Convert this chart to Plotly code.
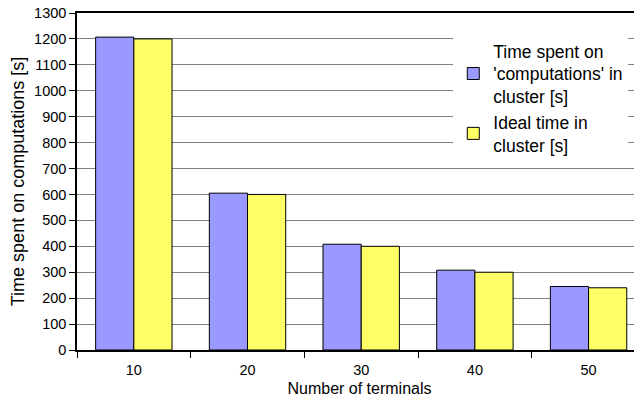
import plotly.graph_objects as go

categories = ["10", "20", "30", "40", "50"]
time_spent = [1207, 605, 408, 308, 245]
ideal_time = [1200, 600, 400, 300, 240]
y_ticks = list(range(0, 1301, 100))

sans = "Liberation Sans, Arial, sans-serif"

fig = go.Figure()
fig.add_trace(go.Bar(
    x=categories, y=time_spent,
    name="Time spent on<br>'computations' in<br>cluster [s]",
    marker=dict(color="#9999FF", line=dict(color="#000000", width=1)),
))
fig.add_trace(go.Bar(
    x=categories, y=ideal_time,
    name="Ideal time in<br>cluster [s]",
    marker=dict(color="#FFFF66", line=dict(color="#000000", width=1)),
))

# The page body has a default 8px margin, so the figure is sized and
# offset to fill the visible 642x400 window.
fig.update_layout(
    width=634, height=392,
    margin=dict(l=69, r=0, t=4.5, b=50),
    paper_bgcolor="white", plot_bgcolor="white",
    barmode="group", bargap=0.328, bargroupgap=0,
    showlegend=True,
    legend=dict(
        x=0.666, y=0.941, xanchor="left", yanchor="top",
        bgcolor="white", borderwidth=0,
        font=dict(family=sans, size=17.5, color="black"),
    ),
    xaxis=dict(
        type="category",
        range=[-0.5, 4.47],
        tickson="boundaries",
        ticks="outside", ticklen=6, tickcolor="black", tickwidth=1,
        showline=True, linecolor="black", linewidth=1.5, mirror=True,
        showgrid=False,
        automargin=False,
        tickfont=dict(family=sans, size=14.5, color="black"),
        ticklabelstandoff=6,
        title=dict(text="Number of terminals", standoff=6,
                   font=dict(family=sans, size=16, color="black")),
    ),
    yaxis=dict(
        range=[0, 1300],
        tickvals=y_ticks,
        ticks="outside", ticklen=6, tickcolor="black", tickwidth=1,
        showline=True, linecolor="black", linewidth=1.5,
        showgrid=True, gridcolor="#808080", gridwidth=1,
        zeroline=False,
        automargin=False,
        ticklabeloverflow="allow",
        tickfont=dict(family=sans, size=14.5, color="black"),
        title=dict(text="Time spent on computations [s]", standoff=6,
                   font=dict(family=sans, size=18, color="black")),
    ),
)

fig.write_html("out.html")
